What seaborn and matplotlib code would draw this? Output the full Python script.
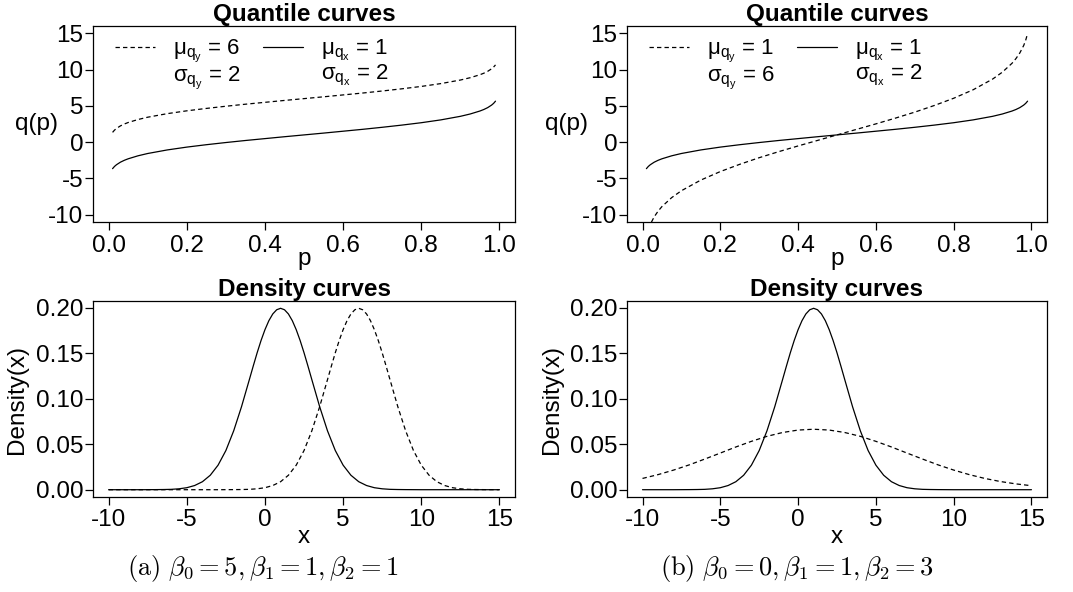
import matplotlib
matplotlib.use("Agg")
import matplotlib.pyplot as plt
import seaborn as sns
from matplotlib.lines import Line2D
from matplotlib.ticker import FormatStrFormatter

# ---- quantile curves ----
p_grid = [0.01, 0.015, 0.02, 0.03, 0.04, 0.05, 0.075, 0.1, 0.15, 0.2, 0.25, 0.3, 0.35, 0.4, 0.45, 0.5,
          0.55, 0.6, 0.65, 0.7, 0.75, 0.8, 0.85, 0.9, 0.925, 0.95, 0.96, 0.97, 0.98, 0.985, 0.99]
# solid: mu_qx = 1, sigma_qx = 2 (same in both panels)
q_x = [-3.65, -3.34, -3.11, -2.76, -2.50, -2.29, -1.88, -1.56, -1.07, -0.68, -0.35, -0.05, 0.23, 0.49,
       0.75, 1.00, 1.25, 1.51, 1.77, 2.05, 2.35, 2.68, 3.07, 3.56, 3.88, 4.29, 4.50, 4.76, 5.11, 5.34, 5.65]
# dashed, panel (a): mu_qy = 6, sigma_qy = 2
q_y_a = [1.35, 1.66, 1.89, 2.24, 2.50, 2.71, 3.12, 3.44, 3.93, 4.32, 4.65, 4.95, 5.23, 5.49,
         5.75, 6.00, 6.25, 6.51, 6.77, 7.05, 7.35, 7.68, 8.07, 8.56, 8.88, 9.29, 9.50, 9.76, 10.11, 10.34, 10.65]
# dashed, panel (b): mu_qy = 1, sigma_qy = 6
q_y_b = [-12.96, -12.02, -11.32, -10.29, -9.51, -8.87, -7.64, -6.69, -5.22, -4.05, -3.05, -2.14, -1.31,
         -0.52, 0.24, 1.00, 1.76, 2.52, 3.31, 4.14, 5.05, 6.05, 7.22, 8.69, 9.64, 10.87, 11.51, 12.29,
         13.32, 14.02, 14.96]

# ---- density curves ----
# solid: density of q_x (mu = 1, sd = 2), both panels
x_solid = [-10, -9, -8, -7, -6.5, -6, -5.5, -5, -4.5, -4, -3.5, -3, -2.5, -2, -1.5, -1, -0.75,
           -0.5, -0.25, 0, 0.25, 0.5, 0.75, 1, 1.25, 1.5, 1.75, 2, 2.25, 2.5, 2.75, 3, 3.5, 4,
           4.5, 5, 5.5, 6, 6.5, 7, 7.5, 8, 8.5, 9, 10, 11, 12, 13, 14, 15]
d_solid = [0, 0, 0, 0.0001, 0.0002, 0.0004, 0.0010, 0.0022, 0.0046, 0.0088, 0.0159, 0.0270, 0.0431,
           0.0648, 0.0913, 0.1210, 0.1360, 0.1506, 0.1641, 0.1760, 0.1859, 0.1933, 0.1979, 0.1995,
           0.1979, 0.1933, 0.1859, 0.1760, 0.1641, 0.1506, 0.1360, 0.1210, 0.0913, 0.0648, 0.0431,
           0.0270, 0.0159, 0.0088, 0.0046, 0.0022, 0.0010, 0.0004, 0.0002, 0.0001, 0, 0, 0, 0, 0, 0]
# dashed, panel (a): mu = 6, sd = 2
x_dash_a = [-10, -8, -6, -4, -3, -2, -1.5, -1, -0.5, 0, 0.5, 1, 1.5, 2, 2.5, 3, 3.5, 4, 4.25, 4.5,
            4.75, 5, 5.25, 5.5, 5.75, 6, 6.25, 6.5, 6.75, 7, 7.25, 7.5, 7.75, 8, 8.5, 9, 9.5, 10,
            10.5, 11, 11.5, 12, 12.5, 13, 13.5, 14, 15]
d_dash_a = [0, 0, 0, 0, 0, 0.0001, 0.0002, 0.0004, 0.0010, 0.0022, 0.0046, 0.0088, 0.0159, 0.0270,
            0.0431, 0.0648, 0.0913, 0.1210, 0.1360, 0.1506, 0.1641, 0.1760, 0.1859, 0.1933, 0.1979,
            0.1995, 0.1979, 0.1933, 0.1859, 0.1760, 0.1641, 0.1506, 0.1360, 0.1210, 0.0913, 0.0648,
            0.0431, 0.0270, 0.0159, 0.0088, 0.0046, 0.0022, 0.0010, 0.0004, 0.0002, 0.0001, 0]
# dashed, panel (b): mu = 1, sd = 6
x_dash_b = [-10, -9, -8, -7, -6, -5, -4, -3, -2, -1, 0, 1, 2, 3, 4, 5, 6, 7, 8, 9, 10, 11, 12, 13, 14, 15]
d_dash_b = [0.0124, 0.0166, 0.0216, 0.0273, 0.0337, 0.0403, 0.0470, 0.0532, 0.0587, 0.0629, 0.0656,
            0.0665, 0.0656, 0.0629, 0.0587, 0.0532, 0.0470, 0.0403, 0.0337, 0.0273, 0.0216, 0.0166,
            0.0124, 0.0090, 0.0064, 0.0044]

leg_a = [r"$\mathregular{\mu_{q_y}}$ = 6", r"$\mathregular{\sigma_{q_y}}$ = 2",
         r"$\mathregular{\mu_{q_x}}$ = 1", r"$\mathregular{\sigma_{q_x}}$ = 2"]
leg_b = [r"$\mathregular{\mu_{q_y}}$ = 1", r"$\mathregular{\sigma_{q_y}}$ = 6",
         r"$\mathregular{\mu_{q_x}}$ = 1", r"$\mathregular{\sigma_{q_x}}$ = 2"]
captions = [r"$\mathrm{(a)}\ \beta_0 = 5, \beta_1 = 1, \beta_2 = 1$",
            r"$\mathrm{(b)}\ \beta_0 = 0, \beta_1 = 1, \beta_2 = 3$"]

sns.set_theme(style="ticks")
plt.rcParams["font.family"] = ["Liberation Sans", "DejaVu Sans"]
FS = 17.5
plt.rcParams.update({
    "font.size": FS,
    "axes.titlesize": FS,
    "axes.labelsize": FS,
    "xtick.labelsize": FS,
    "ytick.labelsize": FS,
    "legend.fontsize": 16,
    "axes.linewidth": 0.9,
    "axes.edgecolor": "black",
    "text.color": "black",
    "axes.labelcolor": "black",
    "xtick.color": "black",
    "ytick.color": "black",
    "xtick.major.size": 6,
    "ytick.major.size": 6,
    "xtick.major.width": 0.9,
    "ytick.major.width": 0.9,
    "xtick.major.pad": 3,
    "ytick.major.pad": 1,
    "axes.unicode_minus": False,
})

DASH = (0, (3.5, 2.5))
LW = 0.9

fig = plt.figure(figsize=(10.73, 5.92), dpi=100)
ax_qa = fig.add_axes([0.0867, 0.625, 0.3933, 0.331])
ax_qb = fig.add_axes([0.5843, 0.625, 0.3915, 0.331])
ax_da = fig.add_axes([0.0867, 0.1605, 0.3933, 0.331])
ax_db = fig.add_axes([0.5843, 0.1605, 0.3915, 0.331])

# quantile panels
for ax, qy, labels in [(ax_qa, q_y_a, leg_a), (ax_qb, q_y_b, leg_b)]:
    sns.lineplot(x=p_grid, y=qy, ax=ax, color="black", lw=LW, linestyle=DASH)
    sns.lineplot(x=p_grid, y=q_x, ax=ax, color="black", lw=LW)
    ax.set_xlim(-0.04, 1.04)
    ax.set_ylim(-11, 16)
    ax.set_xticks([0.0, 0.2, 0.4, 0.6, 0.8, 1.0])
    ax.set_yticks([-10, -5, 0, 5, 10, 15])
    ax.xaxis.set_major_formatter(FormatStrFormatter("%.1f"))
    ax.set_title("Quantile curves", fontweight="bold", pad=2)
    ax.set_xlabel("p", labelpad=-6)
    ax.set_ylabel("q(p)", rotation=0, ha="center", va="center")
    handles = [Line2D([], [], color="black", lw=LW, linestyle=DASH),
               Line2D([], [], color="none"),
               Line2D([], [], color="black", lw=LW),
               Line2D([], [], color="none")]
    ax.legend(handles, labels, ncol=2, loc="upper left", bbox_to_anchor=(0.052, 0.94),
              frameon=False, handlelength=1.8, handletextpad=0.8, columnspacing=1.0,
              labelspacing=0.0, borderaxespad=0, borderpad=0)
ax_qa.yaxis.set_label_coords(-0.133, 0.5)
ax_qb.yaxis.set_label_coords(-0.144, 0.5)

# density panels
sns.lineplot(x=x_solid, y=d_solid, ax=ax_da, color="black", lw=LW)
sns.lineplot(x=x_dash_a, y=d_dash_a, ax=ax_da, color="black", lw=LW, linestyle=DASH)
sns.lineplot(x=x_solid, y=d_solid, ax=ax_db, color="black", lw=LW)
sns.lineplot(x=x_dash_b, y=d_dash_b, ax=ax_db, color="black", lw=LW, linestyle=DASH)
for ax in [ax_da, ax_db]:
    ax.set_xlim(-11, 16)
    ax.set_ylim(-0.008, 0.2075)
    ax.set_xticks([-10, -5, 0, 5, 10, 15])
    ax.set_yticks([0.0, 0.05, 0.10, 0.15, 0.20])
    ax.yaxis.set_major_formatter(FormatStrFormatter("%.2f"))
    ax.set_title("Density curves", fontweight="bold", pad=2)
    ax.set_xlabel("x", labelpad=-4)
    ax.set_ylabel("Density(x)")
ax_da.yaxis.set_label_coords(-0.154, 0.5)
ax_db.yaxis.set_label_coords(-0.152, 0.5)

for xpos, cap in zip([0.245, 0.743], captions):
    fig.text(xpos, 0.0405, cap, ha="center", va="center", fontsize=19, math_fontfamily="cm")

fig.savefig("out.png", dpi=100)
